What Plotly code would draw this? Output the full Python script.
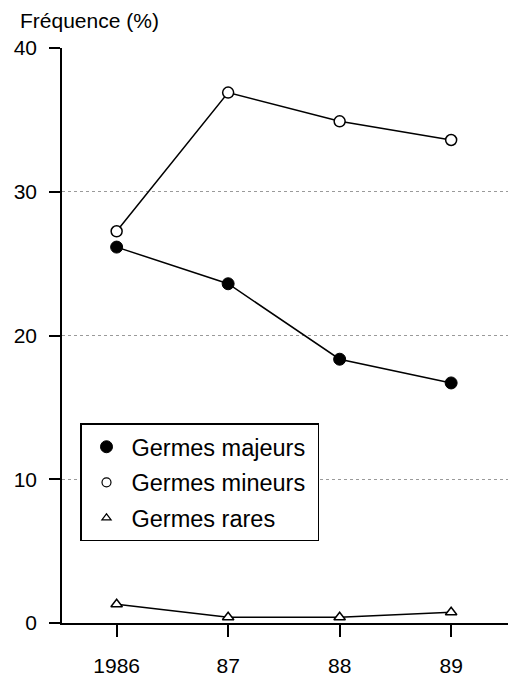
import plotly.graph_objects as go

years = ["1986", "87", "88", "89"]
majeurs = [26.15, 23.6, 18.35, 16.7]
mineurs = [27.25, 36.9, 34.9, 33.6]
rares = [1.3, 0.4, 0.4, 0.75]
yticks = [0, 10, 20, 30, 40]
names = ["Germes majeurs", "Germes mineurs", "Germes rares"]

xpos = list(range(len(years)))
FONT = "Liberation Sans, Arial, Helvetica, sans-serif"

fig = go.Figure()

line_markers = [
    dict(symbol="circle", size=12, color="black", line=dict(color="black", width=1)),
    dict(symbol="circle", size=11, color="white", line=dict(color="black", width=1.5)),
    dict(symbol="triangle-up", size=10, color="white", line=dict(color="black", width=1.5)),
]
legend_markers = [
    dict(symbol="circle", size=12, color="black", line=dict(color="black", width=1)),
    dict(symbol="circle", size=9, color="white", line=dict(color="black", width=1.2)),
    dict(symbol="triangle-up", size=8, color="white", line=dict(color="black", width=1.2)),
]

for name, vals, mk in zip(names, [majeurs, mineurs, rares], line_markers):
    fig.add_trace(go.Scatter(
        x=xpos, y=vals, mode="lines+markers", name=name,
        line=dict(color="black", width=1.5), marker=mk,
        showlegend=False, cliponaxis=False, hoverinfo="skip",
    ))

for i, (name, mk) in enumerate(zip(names, legend_markers)):
    fig.add_trace(go.Scatter(
        x=[None], y=[None], mode="markers", name=name + "\u00a0", marker=mk,
        showlegend=True, legendgroup=f"g{i}",
    ))

# The page body keeps its default 8px margin: figure is 500x669 so the page is 516x685.
OFF = 8
W, H = 500, 669
L, R, T, B = 62 - OFF, 0, 48 - OFF, 44
pw, ph = W - L - R, H - T - B


def px_x(page_x):
    return (page_x - OFF - L) / pw


def px_y(page_y):
    return (H - B - (page_y - OFF)) / ph


fig.update_layout(
    width=W, height=H,
    margin=dict(l=L, r=R, t=T, b=B),
    paper_bgcolor="white", plot_bgcolor="white",
    font=dict(family=FONT, size=20, color="black"),
    showlegend=True,
    legend=dict(
        x=px_x(80), y=px_y(430), xanchor="left", yanchor="top",
        bordercolor="black", borderwidth=1.5, bgcolor="white",
        font=dict(size=23.5, color="black"),
        tracegroupgap=2, itemwidth=40,
    ),
    xaxis=dict(
        range=[-0.49, 3.51], tickvals=xpos, ticktext=years,
        showgrid=False, zeroline=False,
        showline=True, linecolor="black", linewidth=1.5,
        ticks="outside", ticklen=12, tickwidth=1.5, tickcolor="black",
        tickfont=dict(size=21, color="black"),
        ticklabelstandoff=11,
    ),
    yaxis=dict(
        range=[0, 40], tickvals=yticks,
        showgrid=True, gridcolor="#9a9a9a", gridwidth=1, griddash="dot",
        zeroline=False,
        showline=True, linecolor="black", linewidth=1.5,
        ticks="outside", ticklen=11, tickwidth=1.5, tickcolor="black",
        tickfont=dict(size=21, color="black"),
        ticklabelstandoff=8,
    ),
    annotations=[dict(
        text="Fréquence (%)", xref="paper", yref="paper",
        x=px_x(18), y=px_y(20), xanchor="left", yanchor="middle",
        showarrow=False, font=dict(size=21, color="black", family=FONT),
    )],
)

fig.write_html("out.html", config={"displayModeBar": False})
